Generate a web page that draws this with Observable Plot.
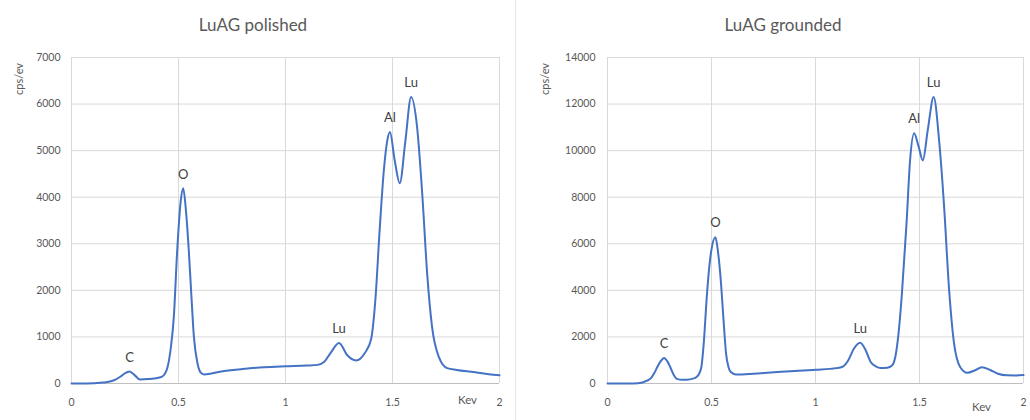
<!DOCTYPE html>
<html><head><meta charset="utf-8">
<script src="https://cdn.jsdelivr.net/npm/d3@7"></script>
<script src="https://cdn.jsdelivr.net/npm/@observablehq/plot@0.6"></script>
<style>
body{margin:0;background:#fff;overflow:hidden;font-family:Lato,"Open Sans",sans-serif;}
#wrap{position:relative;width:1030px;height:420px;overflow:hidden;background:#fff}
.panel{position:absolute;top:0;height:420px}
.panel svg{max-width:none !important}
.title{position:absolute;top:24px;font-size:17px;color:#595959;transform:translate(-50%,-50%);white-space:nowrap}
.ylab{position:absolute;font-size:11px;color:#595959;transform:translate(-50%,-50%) rotate(-90deg);white-space:nowrap}
.sep{position:absolute;left:515px;top:0;width:1px;height:420px;background:#e6e6e6}
</style>
</head><body>
<div id="wrap">
  <div class="panel" id="p1" style="left:0px;width:515px"></div>
  <div class="panel" id="p2" style="left:517px;width:513px"></div>
  <div class="sep"></div>
  <div class="title" style="left:253px">LuAG polished</div>
  <div class="title" style="left:783px">LuAG grounded</div>
  <div class="ylab" style="left:18px;top:79px">cps/ev</div>
  <div class="ylab" style="left:544px;top:79px">cps/ev</div>
</div>
<script>
// ---- Data ----
const xTicks = [0, 0.5, 1, 1.5, 2];
const xTickLabels = ["0", "0.5", "1", "1.5", "2"];
const yTicksPolished = [0, 1000, 2000, 3000, 4000, 5000, 6000, 7000];
const yTicksGrounded = [0, 2000, 4000, 6000, 8000, 10000, 12000, 14000];

const polishedKev = [0, 0.05, 0.10, 0.15, 0.196, 0.23, 0.25, 0.271, 0.295, 0.32, 0.36, 0.416, 0.435, 0.447, 0.465, 0.478, 0.494, 0.51, 0.522, 0.535, 0.548, 0.56, 0.572, 0.588, 0.603, 0.62, 0.7, 0.8, 0.9, 1.0, 1.1, 1.15, 1.18, 1.21, 1.25, 1.29, 1.33, 1.37, 1.40, 1.42, 1.44, 1.46, 1.475, 1.488, 1.51, 1.534, 1.56, 1.587, 1.615, 1.64, 1.662, 1.685, 1.717, 1.755, 1.8, 1.88, 1.95, 2.0];
const polishedCps = [0, 0, 5, 20, 64, 150, 220, 258, 180, 85, 95, 135, 200, 320, 800, 1420, 2860, 3900, 4190, 3700, 2860, 1900, 1000, 450, 240, 195, 260, 310, 350, 370, 385, 400, 460, 650, 870, 600, 495, 650, 950, 1800, 3300, 4600, 5200, 5400, 4800, 4300, 5200, 6150, 5500, 4000, 2360, 1210, 565, 330, 290, 245, 200, 175];

const groundedKev = [0, 0.1, 0.147, 0.19, 0.208, 0.225, 0.239, 0.255, 0.272, 0.288, 0.302, 0.318, 0.334, 0.36, 0.381, 0.41, 0.428, 0.442, 0.452, 0.465, 0.476, 0.499, 0.519, 0.532, 0.546, 0.558, 0.57, 0.582, 0.593, 0.616, 0.7, 0.8, 0.9, 1.0, 1.1, 1.13, 1.157, 1.185, 1.215, 1.24, 1.266, 1.29, 1.313, 1.345, 1.368, 1.385, 1.399, 1.415, 1.438, 1.454, 1.474, 1.495, 1.516, 1.54, 1.568, 1.595, 1.618, 1.642, 1.665, 1.696, 1.73, 1.765, 1.8, 1.84, 1.877, 1.92, 1.96, 2.0];
const groundedCps = [0, 0, 10, 120, 220, 450, 700, 950, 1100, 950, 700, 380, 200, 160, 165, 210, 280, 450, 750, 2000, 3560, 5710, 6280, 5600, 4280, 2700, 1280, 700, 490, 390, 420, 480, 540, 590, 660, 720, 990, 1500, 1750, 1450, 915, 740, 670, 680, 770, 1200, 2130, 3800, 6930, 9500, 10750, 10200, 9580, 10900, 12300, 10360, 7640, 4070, 1800, 700, 460, 560, 700, 580, 420, 350, 345, 360];

const peakNames = ["C", "O", "Lu", "Al", "Lu"];
const polishedPeakKev = [0.271, 0.522, 1.25, 1.488, 1.587];
const polishedPeakCps = [258, 4190, 870, 5400, 6150];
const groundedPeakKev = [0.272, 0.519, 1.215, 1.474, 1.568];
const groundedPeakCps = [1100, 6280, 1750, 10750, 12300];

// ---- Build ----
const zipPts = (xs, ys) => xs.map((k, i) => ({kev: k, cps: ys[i]}));
const zipPeaks = (xs, ys) => peakNames.map((n, i) => ({name: n, kev: xs[i], cps: ys[i]}));

const font = "Lato, 'Open Sans', sans-serif";
function chart({width, ml, mr, yMax, yTicks, pts, peaks, kevDx, kevDy, yPad}) {
  return Plot.plot({
    width, height: 420,
    marginLeft: ml, marginRight: mr, marginTop: 57, marginBottom: 37,
    style: {fontFamily: font, fontSize: "10.5px", color: "#595959", background: "transparent", overflow: "visible", maxWidth: "none"},
    x: {domain: [0, 2]},
    y: {domain: [0, yMax]},
    marks: [
      Plot.gridX(xTicks, {stroke: "#d9d9d9", strokeOpacity: 1}),
      Plot.gridY(yTicks, {stroke: "#d9d9d9", strokeOpacity: 1}),
      Plot.axisX(xTicks, {tickSize: 0, tickPadding: 15, tickFormat: d => xTickLabels[xTicks.indexOf(d)], label: null, fill: "#595959"}),
      Plot.axisY(yTicks, {tickSize: 0, tickPadding: yPad, tickFormat: d => String(d), label: null, fill: "#595959"}),
      Plot.ruleY([0], {stroke: "#bfbfbf"}),
      Plot.line(pts, {x: "kev", y: "cps", curve: "monotone-x", stroke: "#4472C4", strokeWidth: 2}),
      Plot.text(peaks, {x: "kev", y: "cps", text: "name", dy: -14, fontSize: 13, fill: "#404040"}),
      Plot.text(["Kev"], {frameAnchor: "bottom-right", textAnchor: "middle", dx: kevDx, dy: kevDy, fontSize: 11.5, fill: "#595959"})
    ]
  });
}

document.getElementById("p1").appendChild(chart({
  width: 515, ml: 71, mr: 16, yMax: 7000, yTicks: yTicksPolished,
  pts: zipPts(polishedKev, polishedCps), peaks: zipPeaks(polishedPeakKev, polishedPeakCps),
  kevDx: -32, kevDy: 20, yPad: 11
}));
document.getElementById("p2").appendChild(chart({
  width: 513, ml: 90, mr: 7, yMax: 14000, yTicks: yTicksGrounded,
  pts: zipPts(groundedKev, groundedCps), peaks: zipPeaks(groundedPeakKev, groundedPeakCps),
  kevDx: -42, kevDy: 27, yPad: 12
}));
</script>
</body></html>
